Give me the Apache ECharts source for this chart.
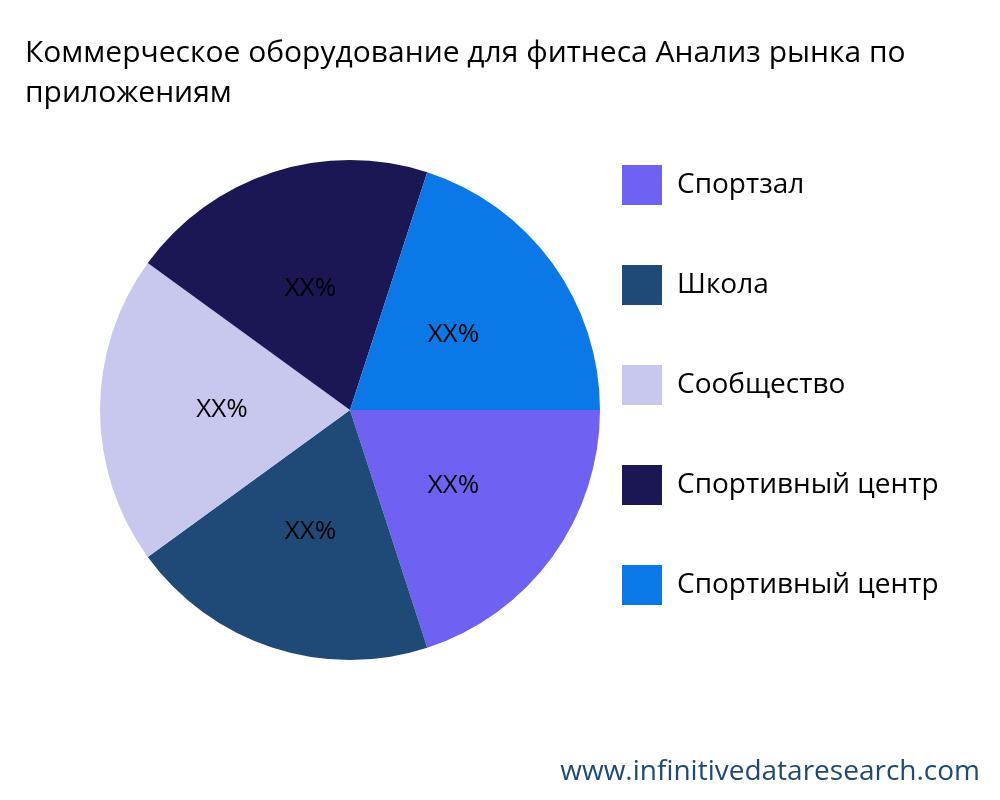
<!DOCTYPE html>
<html><head><meta charset="utf-8">
<script src="https://cdn.jsdelivr.net/npm/echarts@6/dist/echarts.min.js"></script>
<style>html,body{margin:0;background:#fff}#main{width:1000px;height:800px}</style>
</head><body><div id="main"></div>
<script>
var categories = ['Спортзал', 'Школа', 'Сообщество', 'Спортивный центр', 'Спортивный центр '];
var values = [20, 20, 20, 20, 20];
var colors = ['#6F61F2', '#1F4A78', '#C8C8EE', '#1B1755', '#0A78E6'];

var chart = echarts.init(document.getElementById('main'));
var option = {
    backgroundColor: '#fff',
    color: colors,
    title: {
        text: 'Коммерческое оборудование для фитнеса Анализ рынка по\nприложениям',
        left: 20, top: 28,
        textStyle: { fontFamily: 'Open Sans', fontSize: 30, fontWeight: 'normal', color: '#000', lineHeight: 40 }
    },
    legend: {
        orient: 'vertical', left: 617, top: 160,
        itemWidth: 40, itemHeight: 40, itemGap: 60,
        icon: 'rect',
        textStyle: { fontFamily: 'Open Sans', fontSize: 28, color: '#000', padding: [0, 0, 0, 10] },
        data: categories
    },
    graphic: [{
        type: 'text', right: 20, bottom: 14,
        style: { text: 'www.infinitivedataresearch.com', fill: '#1F4A78', font: '28px "Open Sans"' }
    }],
    series: [{
        type: 'pie',
        center: [350, 410], radius: 250,
        startAngle: 0, clockwise: true,
        label: { position: 'inside', formatter: 'XX%', fontFamily: 'Open Sans', fontSize: 26, color: '#000' },
        labelLine: { show: false },
        emphasis: { disabled: true },
        data: categories.map(function (c, i) { return { name: c, value: values[i] }; })
    }]
};
chart.setOption(option);
</script></body></html>
